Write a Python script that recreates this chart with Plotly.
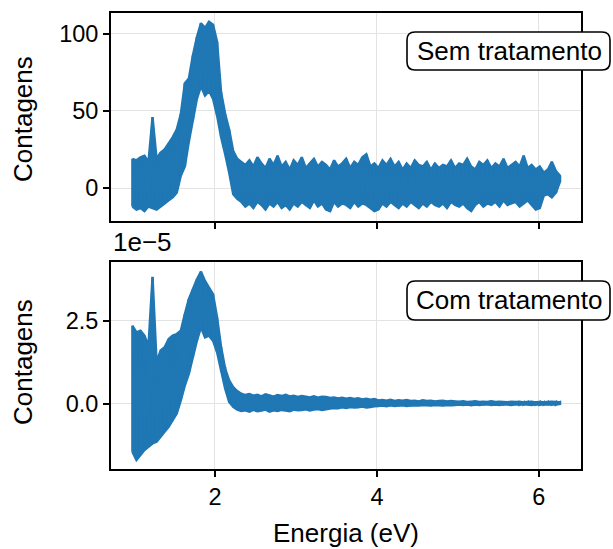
import numpy as np
import plotly.graph_objects as go

# ---------------- data ----------------
energy = np.round(np.linspace(0.98, 6.26, 107), 3)  # eV

# "Sem tratamento": upper / lower envelope of the noisy signal (counts)
sem_hi = [19, 18, 20, 21, 17, 46, 19, 23, 25, 29,
          33, 38, 48, 68, 71, 86, 98, 107, 104, 108,
          106, 95, 62, 48, 38, 24, 19, 17, 15, 18,
          14, 20, 16, 13, 19, 15, 21, 14, 17, 12,
          18, 15, 20, 13, 16, 19, 14, 17, 15, 12,
          18, 14, 16, 19, 13, 17, 15, 20, 22, 14,
          16, 13, 18, 15, 19, 14, 17, 12, 16, 13,
          18, 15, 14, 17, 12, 16, 13, 15, 14, 18,
          13, 16, 15, 19, 14, 12, 17, 15, 18, 13,
          16, 14, 19, 13, 15, 17, 14, 21, 13, 15,
          12, 14, 10, 12, 17, 11, 8]
sem_lo = [-12, -14, -13, -15, -12, -13, -14, -12, -10, -8,
          -6, -3, 8, 14, 30, 44, 58, 66, 60, 63,
          58, 47, 33, 22, 10, -4, -7, -9, -12, -10,
          -13, -9, -11, -14, -10, -12, -9, -13, -11, -14,
          -10, -12, -9, -11, -13, -8, -12, -10, -14, -15,
          -9, -12, -10, -11, -13, -9, -12, -10, -11, -13,
          -15, -14, -10, -12, -9, -11, -13, -10, -12, -9,
          -11, -13, -10, -12, -9, -11, -12, -10, -13, -9,
          -11, -12, -10, -13, -15, -11, -9, -12, -10, -11,
          -9, -12, -8, -11, -10, -9, -12, -10, -8, -11,
          -14, -13, -5, -4, -6, -3, 4]

# "Com tratamento": upper / lower envelope (units of 1e-5)
com_hi = [2.35, 2.15, 2.20, 2.05, 1.75, 3.82, 1.25, 1.60, 1.70, 1.95,
          2.05, 2.10, 2.20, 2.70, 3.15, 3.45, 3.75, 3.98, 3.70, 3.50,
          3.30, 2.60, 1.70, 1.05, 0.70, 0.50, 0.38, 0.30, 0.26, 0.29,
          0.24, 0.27, 0.22, 0.28, 0.25, 0.21, 0.26, 0.23, 0.27, 0.22,
          0.24, 0.20, 0.23, 0.21, 0.19, 0.22, 0.18, 0.21, 0.20, 0.17,
          0.19, 0.16, 0.18, 0.15, 0.17, 0.14, 0.16, 0.13, 0.15, 0.12,
          0.14, 0.10, 0.11, 0.09, 0.12, 0.08, 0.10, 0.09, 0.11, 0.08,
          0.09, 0.07, 0.10, 0.08, 0.09, 0.07, 0.08, 0.09, 0.07, 0.08,
          0.07, 0.06, 0.07, 0.05, 0.06, 0.07, 0.05, 0.06, 0.05, 0.07,
          0.05, 0.06, 0.05, 0.04, 0.06, 0.05, 0.06, 0.04, 0.05, 0.06,
          0.04, 0.05, 0.04, 0.05, 0.06, 0.05, 0.04]
com_lo = [-1.45, -1.70, -1.55, -1.40, -1.30, -1.20, -1.15, -1.00, -0.85, -0.70,
          -0.50, -0.30, 0.10, 0.55, 0.90, 1.40, 1.90, 2.30, 2.00, 2.05,
          1.90, 1.55, 1.00, 0.45, 0.05, -0.10, -0.18, -0.22, -0.20, -0.24,
          -0.19, -0.23, -0.21, -0.18, -0.24, -0.20, -0.22, -0.19, -0.21, -0.23,
          -0.18, -0.20, -0.19, -0.17, -0.21, -0.18, -0.16, -0.19, -0.17, -0.15,
          -0.13, -0.14, -0.11, -0.13, -0.10, -0.12, -0.11, -0.09, -0.12, -0.10,
          -0.08, -0.07, -0.06, -0.08, -0.05, -0.07, -0.06, -0.05, -0.07, -0.06,
          -0.05, -0.06, -0.04, -0.05, -0.06, -0.04, -0.05, -0.06, -0.04, -0.05,
          -0.04, -0.03, -0.04, -0.03, -0.05, -0.03, -0.04, -0.03, -0.02, -0.04,
          -0.03, -0.04, -0.02, -0.03, -0.04, -0.02, -0.03, -0.02, -0.03, -0.04,
          -0.02, -0.03, -0.02, -0.03, -0.02, -0.03, -0.01]

labels = ["Sem tratamento", "Com tratamento"]
x_ticks = [2, 4, 6]
top_ticks = [0, 50, 100]
bot_ticks = [0.0, 2.5]
scale = 1e-5

# ---------------- figure ----------------
W, H = 613, 549
L, R, T, B = 111, 32, 13, 80
pw, ph = W - L - R, H - T - B


def px(xp):
    return (xp - L) / pw


def py(yp):
    return (H - B - yp) / ph


def band(xs, hi, lo, k=1.0):
    xs = list(xs)
    xx = xs + xs[::-1]
    yy = [h * k for h in hi] + [l * k for l in lo][::-1]
    return xx, yy


def zigzag(xs, hi, lo, k=1.0):
    xx, yy = [], []
    for e, h, l in zip(xs, hi, lo):
        xx += [e, e]
        yy += [h * k, l * k]
    return xx, yy


blue = "#1f77b4"
FONT = "Liberation Sans, Arial, sans-serif"
TICKF = 23.5
LABF = 26

fig = go.Figure()
for (hi, lo, k, xa, ya) in [(sem_hi, sem_lo, 1.0, "x", "y"), (com_hi, com_lo, scale, "x2", "y2")]:
    bx, by = band(energy, hi, lo, k)
    fig.add_trace(go.Scatter(x=bx, y=by, mode="lines", fill="toself", fillcolor=blue,
                             line=dict(color=blue, width=2.4, simplify=False),
                             xaxis=xa, yaxis=ya, showlegend=False, hoverinfo="skip"))
    zx, zy = zigzag(energy, hi, lo, k)
    fig.add_trace(go.Scatter(x=zx, y=zy, mode="lines",
                             line=dict(color=blue, width=2.4, simplify=False),
                             xaxis=xa, yaxis=ya, showlegend=False, hoverinfo="skip"))

axis_common = dict(showline=True, linecolor="black", linewidth=1.8, mirror=True,
                   ticks="outside", ticklen=6, tickwidth=1.6, tickcolor="black",
                   showgrid=True, gridcolor="#e3e3e3", gridwidth=1.4, zeroline=False,
                   tickfont=dict(family=FONT, size=TICKF, color="black"))

xr = [0.716, 6.52]
fig.update_layout(
    width=W, height=H,
    margin=dict(l=L, r=R, t=T, b=B),
    paper_bgcolor="white", plot_bgcolor="white",
    xaxis=dict(domain=[0, 1], anchor="y", range=xr, tickvals=x_ticks, showticklabels=False, **axis_common),
    yaxis=dict(domain=[py(221), 1], anchor="x", range=[-21.4, 113.6], tickvals=top_ticks, **axis_common),
    xaxis2=dict(domain=[0, 1], anchor="y2", range=xr, tickvals=x_ticks, matches="x", **axis_common),
    yaxis2=dict(domain=[0, py(262)], anchor="x2", range=[-1.97e-5, 4.27e-5],
                tickvals=[v * scale for v in bot_ticks], ticktext=["%.1f" % v for v in bot_ticks],
                **axis_common),
)

ann = []
ann.append(dict(text="Contagens", x=px(23), y=py(119), xref="paper", yref="paper", textangle=-90,
                showarrow=False, xanchor="center", yanchor="middle",
                font=dict(family=FONT, size=LABF, color="black")))
ann.append(dict(text="Contagens", x=px(23), y=py(362), xref="paper", yref="paper", textangle=-90,
                showarrow=False, xanchor="center", yanchor="middle",
                font=dict(family=FONT, size=LABF, color="black")))
ann.append(dict(text="Energia (eV)", x=px(346), y=py(533), xref="paper", yref="paper",
                showarrow=False, xanchor="center", yanchor="middle",
                font=dict(family=FONT, size=LABF, color="black")))
ann.append(dict(text="1e\u22125", x=px(111), y=py(242), xref="paper", yref="paper",
                showarrow=False, xanchor="left", yanchor="middle",
                font=dict(family=FONT, size=LABF, color="black")))

shapes = []


def rounded_box(x0, y0, x1, y1, r=8):
    def P(a, b):
        return "%f,%f" % (px(a), py(b))
    return ("M " + P(x0 + r, y0) + " L " + P(x1 - r, y0) + " Q " + P(x1, y0) + " " + P(x1, y0 + r) +
            " L " + P(x1, y1 - r) + " Q " + P(x1, y1) + " " + P(x1 - r, y1) +
            " L " + P(x0 + r, y1) + " Q " + P(x0, y1) + " " + P(x0, y1 - r) +
            " L " + P(x0, y0 + r) + " Q " + P(x0, y0) + " " + P(x0 + r, y0) + " Z")


for lab, (by0, by1) in zip(labels, [(32, 70), (281, 320)]):
    shapes.append(dict(type="path", xref="paper", yref="paper", path=rounded_box(407, by0, 610, by1),
                       line=dict(color="black", width=1.6), fillcolor="white", layer="above"))
    ann.append(dict(text=lab, x=px(509), y=py((by0 + by1) / 2), xref="paper", yref="paper",
                    showarrow=False, xanchor="center", yanchor="middle",
                    font=dict(family=FONT, size=LABF, color="black")))

fig.update_layout(annotations=ann, shapes=shapes)
fig.write_html("out.html", config={"displayModeBar": False},
               post_script="document.body.style.margin='0';")
